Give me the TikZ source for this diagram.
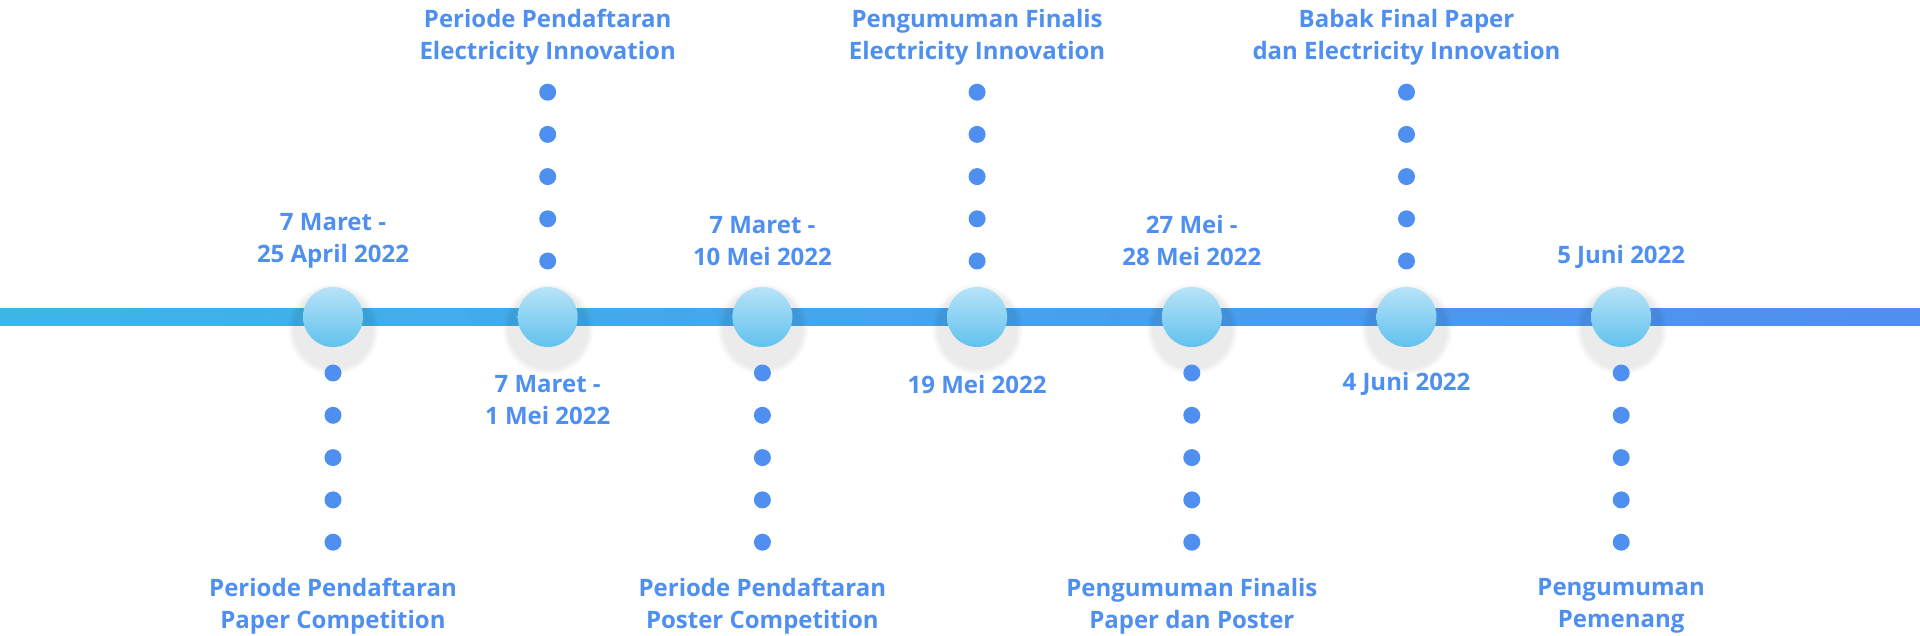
\documentclass[tikz,border=0pt]{standalone}
\usepackage{fontspec}
\setmainfont{Open Sans}
\usetikzlibrary{fadings}

\definecolor{tlblue}{HTML}{4F8FEF}
\definecolor{tlcyan}{HTML}{3DB6E8}
\definecolor{balltop}{HTML}{B8E3F8}
\definecolor{ballbot}{HTML}{60C2EE}

\begin{document}
\begin{tikzpicture}[line cap=round,line join=round,x=1pt,y=-1pt,
    lbl/.style={text=tlblue,font=\bfseries\fontsize{24}{32}\selectfont,align=center,inner sep=0pt},
    ball/.style={circle,minimum size=60pt,inner sep=0pt,top color=balltop,bottom color=ballbot}]
      \useasboundingbox (0,0) rectangle (1920,636);
      % main line
      \shade[left color=tlcyan,right color=tlblue] (0,309) rectangle (1920,326);
      \foreach \i in {1,...,7}{
        \fill[black,opacity=0.08,path fading=circle with fuzzy edge 15 percent] (333+214.7*\i-214.7,329) circle (46);
        \node[ball] (m\i) at (333+214.7*\i-214.7,317) {};
      }
      % dotted stems
      \foreach \i in {1,3,5,7}{
        \foreach \k in {0,...,4}{
          \fill[tlblue] ([yshift=-56pt-42.3pt*\k]m\i.center) circle (8.5);
        }
      }
      \foreach \i in {2,4,6}{
        \foreach \k in {0,...,4}{
          \fill[tlblue] ([yshift=56pt+42.2pt*\k]m\i.center) circle (8.5);
        }
      }

      % dates
      \node[lbl] (d1) at ([yshift=76pt]m1.center) {7 Maret -\\25 April 2022};
      \node[lbl] (d2) at ([yshift=-83pt]m2.center) {7 Maret -\\1 Mei 2022};
      \node[lbl] (d3) at ([yshift=76pt]m3.center) {7 Maret -\\10 Mei 2022};
      \node[lbl] (d4) at ([yshift=-67pt]m4.center) {19 Mei 2022};
      \node[lbl] (d5) at ([yshift=76pt]m5.center) {27 Mei -\\28 Mei 2022};
      \node[lbl] (d6) at ([yshift=-67pt]m6.center) {4 Juni 2022};
      \node[lbl] (d7) at ([yshift=60pt]m7.center) {5 Juni 2022};

      % events
      \node[lbl] (e1) at ([yshift=-289pt]m1.center) {Periode Pendaftaran\\Paper Competition};
      \node[lbl] (e2) at ([yshift=280pt]m2.center) {Periode Pendaftaran\\Electricity Innovation};
      \node[lbl] (e3) at ([yshift=-289pt]m3.center) {Periode Pendaftaran\\Poster Competition};
      \node[lbl] (e4) at ([yshift=280pt]m4.center) {Pengumuman Finalis\\Electricity Innovation};
      \node[lbl] (e5) at ([yshift=-289pt]m5.center) {Pengumuman Finalis\\Paper dan Poster};
      \node[lbl] (e6) at ([yshift=280pt]m6.center) {Babak Final Paper\\dan Electricity Innovation};
      \node[lbl] (e7) at ([yshift=-289pt]m7.center) {Pengumuman\\Pemenang};
    \end{tikzpicture}
\end{document}
